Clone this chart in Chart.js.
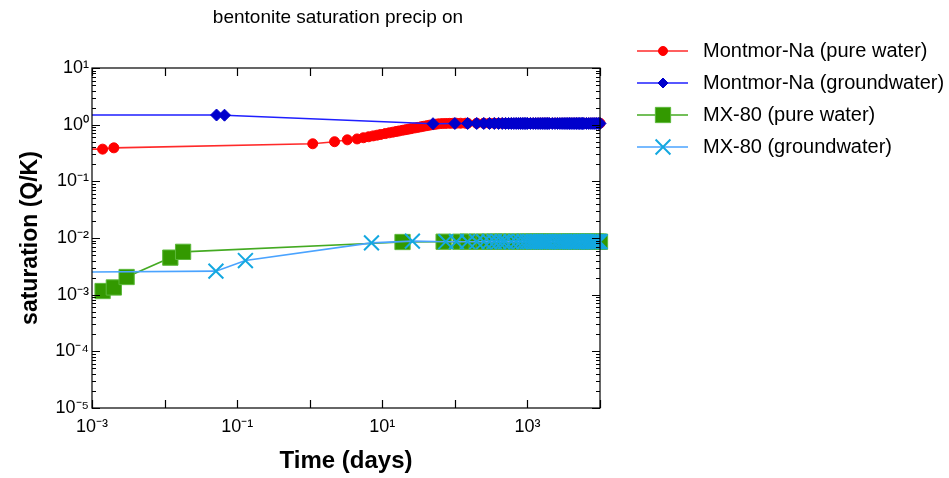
<!DOCTYPE html>
<html>
<head>
<meta charset="utf-8">
<script src="https://cdn.jsdelivr.net/npm/chart.js@4.4.1/dist/chart.umd.min.js"></script>
<style>
  html, body { margin: 0; padding: 0; background: #fff; }
  #wrap { width: 949px; height: 478px; position: relative; }
</style>
</head>
<body>
<div id="wrap"><canvas id="c"></canvas></div>
<script>
// ── Data (time in days, saturation Q/K) ─────────────────
const seriesNames = [
  'Montmor-Na (pure water)',
  'Montmor-Na (groundwater)',
  'MX-80 (pure water)',
  'MX-80 (groundwater)'
];

const naPureT = [0.0005, 0.0014, 0.002, 1.1, 2.2, 3.3, 4.5,
  5.5, 6.5, 7.5, 8.5, 9.5, 11, 12.5, 14, 15.5, 17, 19, 21, 23, 25, 28, 31, 34, 37, 41, 45, 50,
  55, 60, 67, 75, 85, 95, 105, 120, 140,
  150, 200, 250, 300, 350, 400, 450, 500, 600, 700, 800, 900, 1000, 1100, 1200,
  1300, 1400, 1500, 1600, 1700, 1800, 1900, 2000, 2250, 2500, 2750, 3000, 3250, 3500, 3750,
  4000, 4250, 4500, 4750, 5000, 5500, 6000, 6500, 7000, 7500, 8000, 8500, 9000, 9500, 10000];
const naPureQ = [0.37, 0.37, 0.39, 0.46, 0.50, 0.54, 0.56,
  0.588, 0.612, 0.634, 0.653, 0.671, 0.696, 0.718, 0.738, 0.757, 0.774, 0.796, 0.815, 0.834, 0.851, 0.875, 0.896, 0.916, 0.936, 0.959, 0.981, 1.0,
  1.02, 1.035, 1.045, 1.05, 1.055, 1.06, 1.06, 1.06, 1.06,
  1.06, 1.06, 1.06, 1.06, 1.06, 1.06, 1.06, 1.06, 1.06, 1.06, 1.06, 1.06, 1.06, 1.06, 1.06,
  1.06, 1.06, 1.06, 1.06, 1.06, 1.06, 1.06, 1.06, 1.06, 1.06, 1.06, 1.06, 1.06, 1.06, 1.06,
  1.06, 1.06, 1.06, 1.06, 1.06, 1.06, 1.06, 1.06, 1.06, 1.06, 1.06, 1.06, 1.06, 1.06, 1.06];

const naGwT = [0.0005, 0.052, 0.067, 50, 100,
  150, 200, 250, 300, 350, 400, 450, 500, 550, 600, 650, 700, 750, 800, 850, 900, 950, 1000,
  1100, 1200, 1300, 1400, 1500, 1600, 1700, 1800, 1900, 2000,
  2200, 2400, 2600, 2800, 3000, 3200, 3400, 3600, 3800, 4000,
  4250, 4500, 4750, 5000, 5250, 5500, 5750, 6000,
  6500, 7000, 7500, 8000, 8500, 9000, 9500, 10000];
const naGwQ = [1.48, 1.48, 1.47, 1.04, 1.05,
  1.05, 1.05, 1.05, 1.05, 1.05, 1.05, 1.05, 1.05, 1.05, 1.05, 1.05, 1.05, 1.05, 1.05, 1.05, 1.05, 1.05, 1.05,
  1.05, 1.05, 1.05, 1.05, 1.05, 1.05, 1.05, 1.05, 1.05, 1.05,
  1.05, 1.05, 1.05, 1.05, 1.05, 1.05, 1.05, 1.05, 1.05, 1.05,
  1.05, 1.05, 1.05, 1.05, 1.05, 1.05, 1.05, 1.05,
  1.05, 1.05, 1.05, 1.05, 1.05, 1.05, 1.05, 1.05];

const mxPureT = [0.0014, 0.002, 0.003, 0.012, 0.018, 19, 70, 120,
  150, 200, 250, 300, 350, 400, 450, 500, 600, 700, 800, 900, 1000, 1100, 1200,
  1300, 1400, 1500, 1600, 1700, 1800, 1900, 2000, 2250, 2500, 2750, 3000, 3250, 3500, 3750,
  4000, 4250, 4500, 4750, 5000, 5500, 6000, 6500, 7000, 7500, 8000, 8500, 9000, 9500, 10000];
const mxPureQ = [0.00116, 0.00134, 0.00205, 0.0045, 0.0057, 0.0085, 0.0086, 0.0086,
  0.0086, 0.0086, 0.0086, 0.0086, 0.0086, 0.0086, 0.0086, 0.0086, 0.0086, 0.0086, 0.0086, 0.0086, 0.0086, 0.0086, 0.0086,
  0.0086, 0.0086, 0.0086, 0.0086, 0.0086, 0.0086, 0.0086, 0.0086, 0.0086, 0.0086, 0.0086, 0.0086, 0.0086, 0.0086, 0.0086,
  0.0086, 0.0086, 0.0086, 0.0086, 0.0086, 0.0086, 0.0086, 0.0086, 0.0086, 0.0086, 0.0086, 0.0086, 0.0086, 0.0086, 0.0086];

const mxGwT = [0.0005, 0.051, 0.13, 7.1, 26, 75, 105,
  150, 200, 250, 300, 350, 400, 450, 500, 600, 700, 800, 900, 1000, 1100, 1200,
  1300, 1400, 1500, 1600, 1700, 1800, 1900, 2000, 2250, 2500, 2750, 3000, 3250, 3500, 3750,
  4000, 4250, 4500, 4750, 5000, 5500, 6000, 6500, 7000, 7500, 8000, 8500, 9000, 9500, 10000];
const mxGwQ = [0.0025, 0.0026, 0.0040, 0.0082, 0.0088, 0.0086, 0.0086,
  0.0086, 0.0086, 0.0086, 0.0086, 0.0086, 0.0086, 0.0086, 0.0086, 0.0086, 0.0086, 0.0086, 0.0086, 0.0086, 0.0086, 0.0086,
  0.0086, 0.0086, 0.0086, 0.0086, 0.0086, 0.0086, 0.0086, 0.0086, 0.0086, 0.0086, 0.0086, 0.0086, 0.0086, 0.0086, 0.0086,
  0.0086, 0.0086, 0.0086, 0.0086, 0.0086, 0.0086, 0.0086, 0.0086, 0.0086, 0.0086, 0.0086, 0.0086, 0.0086, 0.0086, 0.0086];

const xTickExps = [-3, -1, 1, 3];          // labelled x decades
const yTickExps = [-5, -4, -3, -2, -1, 0, 1];

// ── Helpers ─────────────────────────────────────────────
const SUP = { '-': '\u207B', '0': '\u2070', '1': '\u00B9', '2': '\u00B2', '3': '\u00B3',
              '4': '\u2074', '5': '\u2075', '6': '\u2076', '7': '\u2077', '8': '\u2078', '9': '\u2079' };
const pow10 = e => '10' + String(e).split('').map(c => SUP[c]).join('');
const exactExp = v => { const e = Math.round(Math.log10(v)); return Math.abs(Math.log10(v) - e) < 1e-6 ? e : null; };
const pts = (t, q) => t.map((v, i) => ({ x: v, y: q[i] }));

const FONT = "'Liberation Sans', Arial, Helvetica, sans-serif";
Chart.defaults.font.family = FONT;
Chart.defaults.color = '#000';

const styles = [
  { line: '#ff2a2a', fill: '#ff0000', edge: '#ff0000', style: 'circle',   r: 5,    lr: 4.5, bw: 1 },
  { line: '#1f1fff', fill: '#0000cc', edge: '#0000cc', style: 'rectRot',  r: 6,    lr: 5,   bw: 1 },
  { line: '#44aa22', fill: '#339900', edge: '#5cb83a', style: 'rect',     r: 10.8, lr: 10.8, bw: 1 },
  { line: '#4aa3ff', fill: '#14a8e0', edge: '#14a8e0', style: 'crossRot', r: 10.5, lr: 10.5, bw: 2 }
];

function mkSet(i, data) {
  const s = styles[i];
  return {
    label: seriesNames[i], data,
    borderColor: s.line, borderWidth: 1.6,
    pointStyle: s.style, pointRadius: s.r, pointHoverRadius: s.r,
    pointBackgroundColor: s.fill, pointBorderColor: s.edge, pointBorderWidth: s.bw,
    order: 4 - i, tension: 0,
    clip: { left: 0, top: false, right: false, bottom: false }
  };
}

// ── Frame, inward ticks, title, legend ──────────────────
const decor = {
  id: 'decor',
  afterDraw(chart) {
    const { ctx, chartArea: a, scales: { x, y } } = chart;
    ctx.save();
    ctx.strokeStyle = '#000';
    ctx.lineWidth = 1.2;
    ctx.strokeRect(a.left, a.top, a.right - a.left, a.bottom - a.top);
    ctx.beginPath();
    for (let e = -3; e <= 4; e++) {
      const px = Math.round(x.getPixelForValue(Math.pow(10, e))) + 0.5;
      ctx.moveTo(px, a.bottom); ctx.lineTo(px, a.bottom - 8);
      ctx.moveTo(px, a.top);    ctx.lineTo(px, a.top + 8);
    }
    for (let e = -5; e <= 1; e++) {
      for (let m = 1; m <= 9; m++) {
        const v = m * Math.pow(10, e);
        if (v > 10) break;
        const py = Math.round(y.getPixelForValue(v)) + 0.5;
        const len = m === 1 ? 8 : 4;
        ctx.moveTo(a.left, py);  ctx.lineTo(a.left + len, py);
        ctx.moveTo(a.right, py); ctx.lineTo(a.right - len, py);
      }
    }
    ctx.stroke();

    // title
    ctx.fillStyle = '#000';
    ctx.font = '19px ' + FONT;
    ctx.textAlign = 'center';
    ctx.textBaseline = 'middle';
    ctx.fillText('bentonite saturation precip on', 338, 18);

    // legend
    ctx.font = '20px ' + FONT;
    ctx.textAlign = 'left';
    seriesNames.forEach((name, i) => {
      const s = styles[i];
      const ly = 51 + i * 32;
      ctx.strokeStyle = s.line;
      ctx.lineWidth = 1.6;
      ctx.beginPath(); ctx.moveTo(637, ly); ctx.lineTo(688, ly); ctx.stroke();
      ctx.fillStyle = s.fill;
      ctx.strokeStyle = s.edge;
      ctx.lineWidth = s.bw;
      Chart.helpers.drawPoint(ctx, { pointStyle: s.style, radius: s.lr, rotation: 0, borderWidth: s.bw }, 663, ly);
      ctx.fillStyle = '#000';
      ctx.fillText(name, 703, ly);
    });
    ctx.restore();
  }
};

new Chart(document.getElementById('c'), {
  type: 'line',
  data: {
    datasets: [
      mkSet(0, pts(naPureT, naPureQ)),
      mkSet(1, pts(naGwT, naGwQ)),
      mkSet(2, pts(mxPureT, mxPureQ)),
      mkSet(3, pts(mxGwT, mxGwQ))
    ]
  },
  options: {
    responsive: true,
    maintainAspectRatio: false,
    animation: false,
    events: [],
    layout: { padding: { left: 0, top: 68, right: 349, bottom: 0 } },
    plugins: { legend: { display: false }, title: { display: false }, tooltip: { enabled: false } },
    scales: {
      x: {
        type: 'logarithmic', min: 1e-3, max: 1e4,
        grid: { display: false, drawTicks: false },
        border: { display: false },
        ticks: {
          autoSkip: false, maxRotation: 0, padding: 8,
          font: { size: 18 },
          callback: v => { const e = exactExp(v); return e !== null && xTickExps.includes(e) ? pow10(e) : ''; }
        },
        title: { display: true, text: 'Time (days)', font: { size: 24, weight: 'bold' }, padding: { top: 0, bottom: 2 } },
        afterFit: s => { s.height = 70; }
      },
      y: {
        type: 'logarithmic', min: 1e-5, max: 10,
        grid: { display: false, drawTicks: false },
        border: { display: false },
        ticks: {
          autoSkip: false, padding: 3,
          font: { size: 18 },
          callback: v => { const e = exactExp(v); return e !== null && yTickExps.includes(e) ? pow10(e) : ''; }
        },
        title: { display: true, text: 'saturation (Q/K)', font: { size: 23, weight: 'bold' }, padding: { top: 17, bottom: 0 } },
        afterFit: s => { s.width = 92; }
      }
    }
  },
  plugins: [decor]
});
</script>
</body>
</html>
